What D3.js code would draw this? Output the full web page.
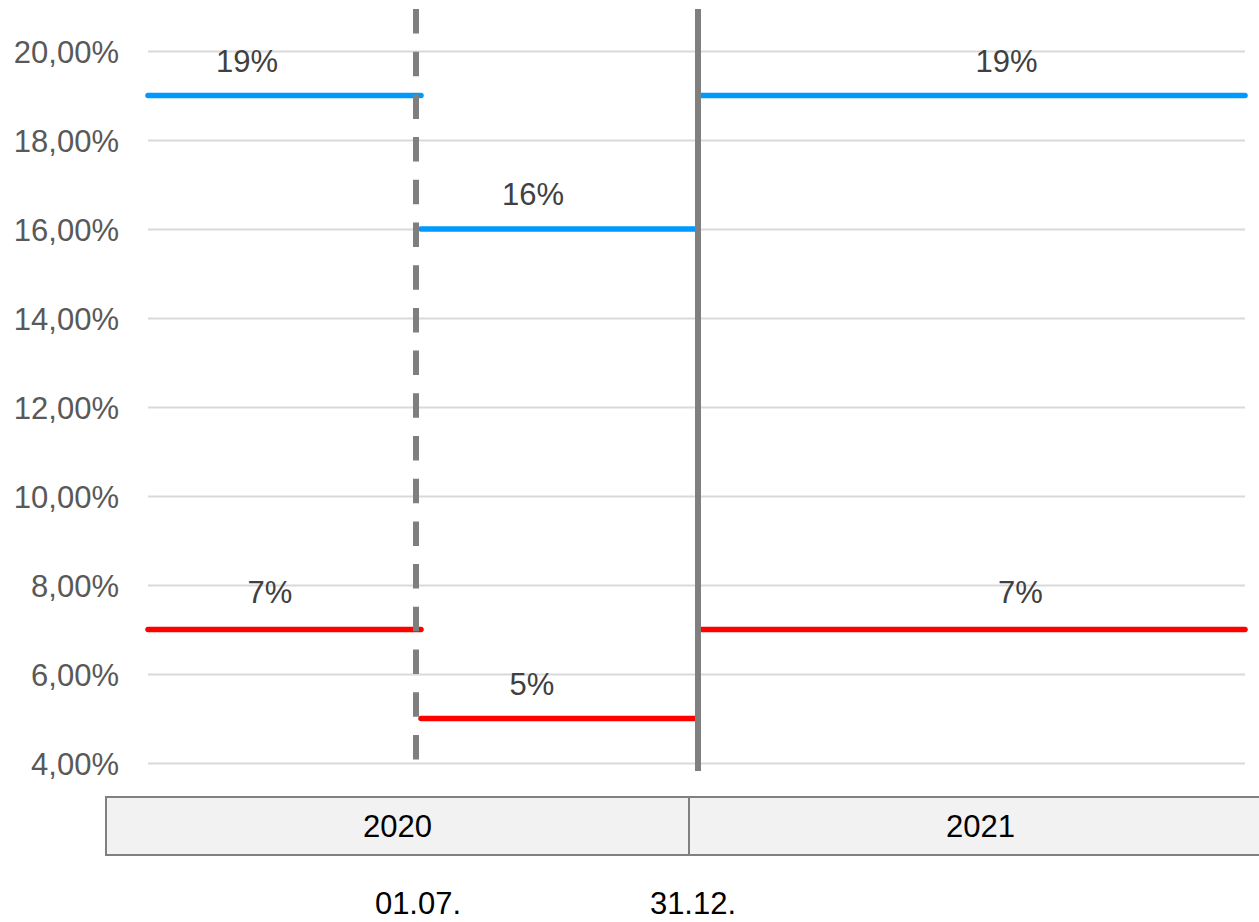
<!DOCTYPE html>
<html>
<head>
<meta charset="utf-8">
<script src="https://cdn.jsdelivr.net/npm/d3@7"></script>
<style>
  body { margin: 0; background: #fff; }
  svg text { font-family: "Liberation Sans", Arial, sans-serif; }
</style>
</head>
<body>
<script>
// months counted from 01.01.2020
const periodStart = [0, 6, 12];
const periodEnd = [6, 12, 24];
const standardRate = [19, 16, 19];
const reducedRate = [7, 5, 7];
const yTicks = [4, 6, 8, 10, 12, 14, 16, 18, 20];
const years = ["2020", "2021"];
const dateMonths = [6, 12];
const dateLabels = ["01.07.", "31.12."];

const w = 1259;
const h = 922;

const x = d3.scaleLinear()
            .domain([0, 6, 12, 24])
            .range([148, 416, 698, 1245]);

const y = d3.scaleLinear()
            .domain([4, 20])
            .range([763, 51]);

const yearBand = d3.scaleBand()
                   .domain(years)
                   .range([106, 1272]);

const svg = d3.select("body")
              .append("svg")
              .attr("width", w)
              .attr("height", h);

// gridlines + tick labels
const yAxis = d3.axisLeft(y)
                .tickValues(yTicks)
                .tickSize(-(1245 - 148))
                .tickPadding(29)
                .tickFormat((d) => d3.format(".2f")(d).replace(".", ",") + "%");

const ga = svg.append("g")
              .attr("transform", "translate(148,0)")
              .call(yAxis);
ga.select(".domain").remove();
ga.selectAll(".tick line").attr("stroke", "#d9d9d9").attr("stroke-width", 2);
ga.selectAll(".tick text")
  .attr("fill", "#595959")
  .attr("font-size", 31)
  .attr("dy", "0.36em");

// rate segments
const segs = periodStart.map((s, i) => ({ s: s, e: periodEnd[i], i: i }));

const series = [
  { vals: standardRate, color: "#0099ff", shift: [-35, -24, 35], lift: [24, 24, 24] },
  { vals: reducedRate, color: "#ff0000", shift: [-12, -25, 49], lift: [27, 24, 27] }
];

series.forEach((ser) => {
  svg.append("g")
     .selectAll("line")
     .data(segs)
     .enter()
     .append("line")
     .attr("x1", (d) => d.i === 1 ? x(d.s) + 5 : x(d.s))
     .attr("x2", (d) => d.i === 0 ? x(d.e) + 5 : x(d.e))
     .attr("y1", (d) => y(ser.vals[d.i]))
     .attr("y2", (d) => y(ser.vals[d.i]))
     .attr("stroke", ser.color)
     .attr("stroke-width", 5.5)
     .attr("stroke-linecap", "round");

  svg.append("g")
     .selectAll("text")
     .data(segs)
     .enter()
     .append("text")
     .attr("x", (d) => (x(d.s) + x(d.e)) / 2 + ser.shift[d.i])
     .attr("y", (d) => y(ser.vals[d.i]) - ser.lift[d.i])
     .attr("text-anchor", "middle")
     .attr("fill", "#404040")
     .attr("font-size", 31)
     .text((d) => ser.vals[d.i] + "%");
});

// vertical markers
svg.append("line")
   .attr("x1", x(dateMonths[0])).attr("x2", x(dateMonths[0]))
   .attr("y1", 9).attr("y2", 760)
   .attr("stroke", "#7f7f7f")
   .attr("stroke-width", 6)
   .attr("stroke-dasharray", "24.5,18.2");

svg.append("line")
   .attr("x1", x(dateMonths[1])).attr("x2", x(dateMonths[1]))
   .attr("y1", 9).attr("y2", 771)
   .attr("stroke", "#7f7f7f")
   .attr("stroke-width", 6);

// year boxes
const yb = svg.append("g")
              .selectAll("g")
              .data(years)
              .enter()
              .append("g");

yb.append("rect")
  .attr("x", (d) => yearBand(d))
  .attr("y", 797)
  .attr("width", yearBand.bandwidth())
  .attr("height", 58)
  .attr("fill", "#f2f2f2")
  .attr("stroke", "#808080")
  .attr("stroke-width", 2);

yb.append("text")
  .attr("x", (d) => yearBand(d) + yearBand.bandwidth() / 2)
  .attr("y", 837)
  .attr("text-anchor", "middle")
  .attr("fill", "#000")
  .attr("font-size", 31)
  .text((d) => d);

// dates below
svg.append("g")
   .selectAll("text")
   .data(dateLabels)
   .enter()
   .append("text")
   .attr("x", (d, i) => x(dateMonths[i]) + (i === 0 ? 2 : -5))
   .attr("y", (d, i) => i === 0 ? 914 : 914)
   .attr("text-anchor", "middle")
   .attr("fill", "#000")
   .attr("font-size", 31)
   .text((d) => d);
</script>
</body>
</html>
